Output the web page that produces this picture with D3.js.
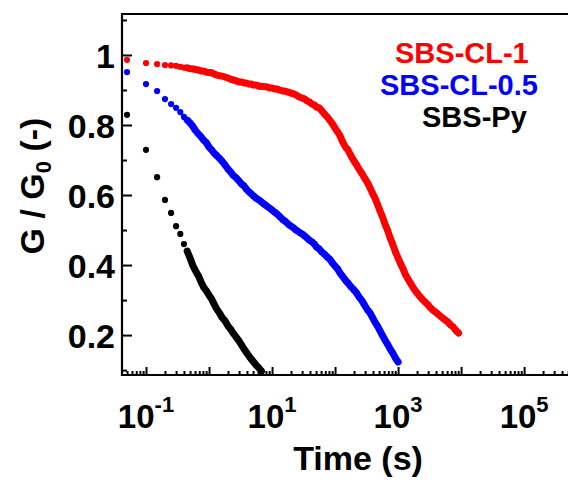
<!DOCTYPE html>
<html><head><meta charset="utf-8">
<script src="https://cdn.jsdelivr.net/npm/d3@7"></script>
<style>
body{margin:0;background:#fff;}
svg{display:block;}
text{font-family:"Liberation Sans",Arial,sans-serif;font-weight:bold;}
</style>
</head><body>
<svg id="chart" width="568" height="486"></svg>
<script>
// ---- data (time in s, G/G0) ----
const times = [0.05,0.1,0.15,0.2,0.25,0.3,0.35,0.4,0.45,0.5,0.55,0.6,
  0.68,0.75,0.82,0.91,
  1,1.1,1.2,1.3,1.5,1.6,1.8,2,2.2,2.4,2.7,3,3.3,3.6,3.9,4.3,4.7,5.1,5.6,6.2,6.8,7.5,8.2,9.1,
  10,11,12,13,15,16,18,20,22,24,27,30,33,36,39,43,47,51,56,62,68,75,82,91,
  100,110,120,130,150,160,180,200,220,240,270,300,330,360,390,430,470,510,560,620,680,750,820,910,
  1000,1100,1200,1300,1500,1600,1800,2000,2200,2400,2700,3000,3300,3600,3900,4300,4700,5100,5600,6200,6800,7500,8200,9100];

const gRed = [0.986,0.977,0.974,0.971,0.970,0.969,0.966,0.964,0.963,0.961,0.960,0.959,
  0.957,0.954,0.954,0.951,
  0.950,0.949,0.946,0.943,0.940,0.940,0.937,0.934,0.931,0.929,0.926,0.923,0.923,0.920,0.920,0.917,0.917,0.914,0.914,0.911,0.911,0.909,0.909,0.906,
  0.906,0.903,0.903,0.900,0.897,0.897,0.894,0.891,0.889,0.886,0.880,0.877,0.874,0.869,0.866,0.860,0.857,0.851,0.849,0.840,0.831,0.823,0.814,0.803,
  0.791,0.780,0.769,0.754,0.734,0.729,0.711,0.697,0.686,0.674,0.660,0.646,0.634,0.620,0.606,0.591,0.574,0.557,0.540,0.517,0.500,0.477,0.460,0.437,
  0.420,0.403,0.389,0.374,0.354,0.346,0.331,0.320,0.311,0.303,0.294,0.286,0.277,0.271,0.266,0.260,0.254,0.249,0.243,0.237,0.229,0.223,0.214,0.206];

const gBlue = [0.951,0.917,0.897,0.874,0.860,0.849,0.837,0.823,0.814,0.806,0.797,0.786,
  0.774,0.766,0.757,0.749,
  0.737,0.729,0.720,0.714,0.703,0.697,0.686,0.674,0.666,0.657,0.649,0.640,0.631,0.626,0.617,0.609,0.603,0.597,0.591,0.586,0.580,0.574,0.569,0.563,
  0.557,0.551,0.546,0.540,0.529,0.526,0.517,0.511,0.506,0.500,0.494,0.489,0.483,0.477,0.471,0.466,0.460,0.451,0.446,0.437,0.431,0.423,0.417,0.406,
  0.397,0.389,0.377,0.369,0.354,0.349,0.337,0.329,0.320,0.309,0.297,0.283,0.271,0.263,0.251,0.237,0.226,0.214,0.200,0.186,0.174,0.160,0.149,0.134,
  0.123];

const gBlack = [0.829,0.729,0.651,0.586,0.549,0.511,0.489,0.460,0.440,0.420,0.400,0.386,
  0.369,0.351,0.337,0.326,
  0.314,0.303,0.289,0.277,0.260,0.251,0.240,0.226,0.217,0.206,0.194,0.183,0.171,0.160,0.151,0.140,0.131,0.123,0.114,0.106,0.097];

const seriesNames = ["SBS-CL-1", "SBS-CL-0.5", "SBS-Py"];
const seriesColors = ["#ff0000", "#0000ff", "#000000"];
const seriesValues = [gRed, gBlue, gBlack];

const yTickValues = [0.2, 0.4, 0.6, 0.8, 1];
const yTickLabels = ["0.2", "0.4", "0.6", "0.8", "1"];
const yMinorTicks = [0.1, 0.3, 0.5, 0.7, 0.9, 1.1];
const xMajorTicks = [0.1, 1, 10, 100, 1000, 1e4, 1e5, 1e6];
const xLabelExponents = ["-1", "1", "3", "5"];
const xLabelValues = [0.1, 10, 1000, 1e5];
const denseFrom = 0.45; // from this time on the measured points merge into a band

// ---- layout ----
const L = 122, R = 600, T = 14, B = 375;
const svg = d3.select("#chart");
const x = d3.scaleLog().domain([0.0416, 1.6e6]).range([L, R]);
const y = d3.scaleLinear().domain([0.086, 1.117]).range([B, T]);

// minor x ticks
const xMinorTicks = [];
xMajorTicks.concat([0.01]).forEach(base => {
  for (let m = 2; m <= 9; m++) {
    const v = base * m;
    if (v > x.domain()[0] && v < x.domain()[1]) xMinorTicks.push(v);
  }
});

// ---- axes ----
function styleAxis(g) {
  g.attr("font-family", null).attr("font-size", null);
  g.select(".domain").remove();
  g.selectAll(".tick line").attr("stroke", "#000").attr("stroke-width", 2);
}
const gyMajor = svg.append("g").attr("transform", `translate(${L},0)`)
  .call(d3.axisLeft(y).tickValues(yTickValues).tickSize(-10).tickSizeOuter(0).tickPadding(7)
    .tickFormat((d, i) => yTickLabels[i]));
styleAxis(gyMajor);
gyMajor.selectAll("text").attr("font-size", 34).attr("fill", "#000").attr("dy", "0.36em");

const gyMinor = svg.append("g").attr("transform", `translate(${L},0)`)
  .call(d3.axisLeft(y).tickValues(yMinorTicks).tickSize(-5).tickSizeOuter(0).tickFormat(() => ""));
styleAxis(gyMinor);

const gxMajor = svg.append("g").attr("transform", `translate(0,${B})`)
  .call(d3.axisBottom(x).tickValues(xMajorTicks).tickSize(-8).tickSizeOuter(0).tickFormat(() => ""));
styleAxis(gxMajor);
const gxMinor = svg.append("g").attr("transform", `translate(0,${B})`)
  .call(d3.axisBottom(x).tickValues(xMinorTicks).tickSize(-4).tickSizeOuter(0).tickFormat(() => ""));
styleAxis(gxMinor);

// frame
svg.append("path")
  .attr("d", `M${R},${T}H${L}V${B}H${R}`)
  .attr("fill", "none").attr("stroke", "#000").attr("stroke-width", 2.2);

// x tick labels 10^n
xLabelValues.forEach((v, i) => {
  const t = svg.append("text")
    .attr("x", x(v)).attr("y", 428)
    .attr("text-anchor", "middle").attr("font-size", 33).attr("fill", "#000");
  t.append("tspan").text("10");
  t.append("tspan").attr("font-size", 22).attr("dy", -16).text(xLabelExponents[i]);
});

// axis titles
svg.append("text").attr("x", 358).attr("y", 470)
  .attr("text-anchor", "middle").attr("font-size", 34).attr("fill", "#000").text("Time (s)");

const yt = svg.append("text")
  .attr("transform", "translate(44,186) rotate(-90)")
  .attr("text-anchor", "middle").attr("font-size", 34).attr("fill", "#000");
yt.append("tspan").text("G / G");
yt.append("tspan").attr("font-size", 22).attr("dy", 7).text("0");
yt.append("tspan").attr("dy", -7).text(" (-)");

// ---- data marks ----
const line = d3.line().x(d => x(d.t)).y(d => y(d.g));
seriesValues.forEach((vals, si) => {
  const pts = vals.map((g, i) => ({ t: times[i], g }));
  const gS = svg.append("g");
  gS.append("path")
    .datum(pts.filter(d => d.t >= denseFrom))
    .attr("d", line)
    .attr("fill", "none").attr("stroke", seriesColors[si])
    .attr("stroke-width", 7).attr("stroke-linecap", "round").attr("stroke-linejoin", "round");
  gS.selectAll("circle").data(pts).join("circle")
    .attr("cx", d => x(d.t)).attr("cy", d => y(d.g)).attr("r", 3.1)
    .attr("fill", seriesColors[si]);
});

// ---- legend ----
const legendPos = [[395, 63], [380, 95], [422, 127]];
seriesNames.forEach((n, i) => {
  svg.append("text").attr("x", legendPos[i][0]).attr("y", legendPos[i][1])
    .attr("font-size", 29).attr("fill", seriesColors[i]).text(n);
});
</script>
</body></html>
